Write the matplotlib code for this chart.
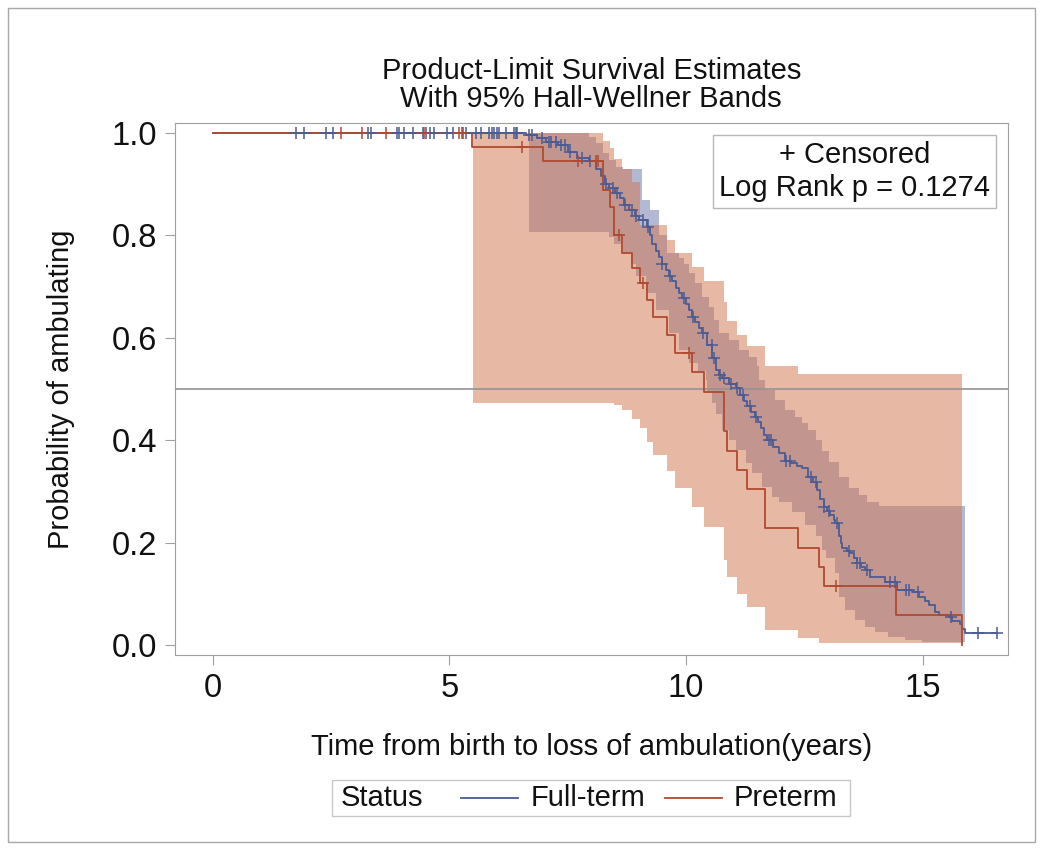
import numpy as np
import matplotlib
matplotlib.use('Agg')
import matplotlib.pyplot as plt
from matplotlib.patches import Rectangle
from matplotlib.lines import Line2D

plt.rcParams['font.family'] = ['Liberation Sans', 'DejaVu Sans']

# Kaplan-Meier estimates
ft_t = [0, 6.62, 6.85, 7.05, 7.3, 7.5, 7.7, 7.95, 8.1, 8.2, 8.3, 8.38, 8.5, 8.6, 8.7,
        8.8, 8.92, 9.01, 9.18, 9.24, 9.29, 9.36, 9.43, 9.5, 9.57, 9.64, 9.71, 9.78,
        9.85, 9.92, 10.0, 10.06, 10.13, 10.2, 10.27, 10.34, 10.45, 10.56, 10.63, 10.7,
        10.77, 10.9, 11.05, 11.15, 11.22, 11.29, 11.38, 11.47, 11.52, 11.58, 11.65,
        11.72, 11.84, 11.96, 12.1, 12.21, 12.35, 12.45, 12.59, 12.68, 12.77, 12.84,
        12.91, 12.98, 13.05, 13.12, 13.16, 13.23, 13.27, 13.3, 13.4, 13.47, 13.55,
        13.61, 13.7, 13.79, 13.9, 14.21, 14.46, 14.77, 14.92, 15.05, 15.13, 15.27,
        15.34, 15.55, 15.62, 15.79, 15.84, 15.9]
ft_s = [1.0, 0.996, 0.99, 0.983, 0.977, 0.963, 0.952, 0.945, 0.93, 0.915, 0.9, 0.892,
        0.882, 0.873, 0.86, 0.849, 0.838, 0.83, 0.817, 0.8, 0.784, 0.77, 0.758, 0.745,
        0.732, 0.72, 0.71, 0.698, 0.687, 0.678, 0.665, 0.655, 0.641, 0.63, 0.62, 0.609,
        0.585, 0.56, 0.537, 0.528, 0.521, 0.51, 0.501, 0.488, 0.477, 0.466, 0.456,
        0.446, 0.435, 0.423, 0.41, 0.4, 0.387, 0.374, 0.36, 0.355, 0.35, 0.345, 0.329,
        0.318, 0.303, 0.285, 0.27, 0.262, 0.254, 0.245, 0.238, 0.212, 0.2, 0.19, 0.184,
        0.179, 0.17, 0.16, 0.153, 0.146, 0.133, 0.124, 0.107, 0.104, 0.094, 0.086,
        0.078, 0.065, 0.059, 0.055, 0.046, 0.042, 0.032, 0.024]
ft_end = 16.57
ft_cens = [1.77, 1.93, 2.40, 2.54, 3.28, 3.35, 3.90, 3.93, 4.04, 4.23, 4.44, 4.51,
           4.60, 4.67, 4.96, 5.07, 5.28, 5.35, 5.56, 5.67, 5.84, 5.90, 5.95, 6.01,
           6.05, 6.20, 6.37, 6.41, 6.44, 6.68, 6.75, 6.95, 7.1, 7.15, 7.25, 7.35,
           7.45, 7.55, 7.8, 7.98, 8.32, 8.45, 8.55, 8.72, 8.85, 8.95, 9.1, 9.2, 9.5,
           9.66, 9.95, 10.15, 10.37, 10.55, 10.6, 10.72, 10.8, 10.95, 11.08, 11.2,
           11.35, 11.48, 11.75, 11.8, 12.12, 12.2, 12.65, 12.75, 12.92, 13.02, 13.2,
           13.45, 13.62, 13.67, 13.82, 14.32, 14.42, 14.66, 14.72, 14.9, 15.6,
           16.17, 16.57]

pre_t = [0, 5.48, 6.99, 8.25, 8.39, 8.48, 8.65, 8.85, 9.03, 9.17, 9.31, 9.59, 9.76,
         10.13, 10.39, 10.80, 10.87, 11.07, 11.29, 11.67, 12.37, 12.81, 12.91, 14.44,
         15.84]
pre_s = [1.0, 0.973, 0.945, 0.889, 0.856, 0.80, 0.766, 0.737, 0.706, 0.674, 0.641,
         0.605, 0.570, 0.533, 0.495, 0.418, 0.379, 0.342, 0.304, 0.228, 0.190, 0.153,
         0.115, 0.059, 0.0]
pre_cens = [2.70, 3.15, 3.66, 4.47, 5.21, 5.27, 6.53, 7.72, 8.10, 8.14, 8.59, 9.09,
            10.06, 13.17]

# Hall-Wellner bands
ft_hi_t = [6.69, 7.95, 8.09, 8.24, 8.38, 8.52, 8.66, 9.08, 9.25, 9.43, 9.61, 9.85,
           9.96, 10.06, 10.2, 10.34, 10.49, 10.59, 10.7, 10.91, 11.12, 11.33, 11.5,
           11.54, 11.68, 11.89, 12.1, 12.31, 12.45, 12.59, 12.74, 12.88, 13.02, 13.23,
           13.44, 13.65, 13.83, 14.07]
ft_hi = [1.0, 0.993, 0.98, 0.96, 0.947, 0.934, 0.93, 0.87, 0.85, 0.80, 0.765, 0.755,
         0.745, 0.726, 0.706, 0.68, 0.661, 0.635, 0.609, 0.596, 0.576, 0.563, 0.544,
         0.518, 0.498, 0.479, 0.459, 0.446, 0.433, 0.42, 0.40, 0.378, 0.358, 0.329,
         0.306, 0.293, 0.28, 0.271]
ft_lo_t = [6.69, 8.38, 8.48, 8.66, 8.83, 8.94, 9.15, 9.36, 9.64, 9.85, 10.06, 10.25,
           10.42, 10.45, 10.56, 10.63, 10.77, 10.91, 11.05, 11.26, 11.4, 11.61, 11.82,
           11.96, 12.24, 12.52, 12.74, 12.88, 12.95, 13.16, 13.23, 13.37, 13.58, 13.79,
           14.0, 14.28, 14.63, 14.99]
ft_lo = [0.807, 0.797, 0.784, 0.765, 0.745, 0.72, 0.687, 0.654, 0.609, 0.576, 0.551,
         0.535, 0.518, 0.492, 0.472, 0.452, 0.42, 0.40, 0.381, 0.355, 0.335, 0.309,
         0.29, 0.28, 0.26, 0.235, 0.212, 0.186, 0.17, 0.14, 0.094, 0.068, 0.049, 0.036,
         0.026, 0.016, 0.01, 0.005]
ft_band_end = 15.9

pre_hi_t = [5.49, 8.25, 8.39, 8.48, 8.65, 8.85, 9.03, 9.59, 9.76, 10.13, 10.39, 10.80,
            10.87, 11.07, 11.29, 11.67, 12.37]
pre_hi = [1.0, 0.985, 0.97, 0.95, 0.93, 0.905, 0.82, 0.791, 0.765, 0.739, 0.710, 0.670,
          0.632, 0.605, 0.583, 0.544, 0.530]
pre_lo_t = [5.49, 8.48, 8.65, 8.85, 9.03, 9.17, 9.31, 9.59, 9.76, 10.13, 10.39, 10.80,
            10.87, 11.07, 11.29, 11.67, 12.37, 12.81]
pre_lo = [0.472, 0.468, 0.459, 0.442, 0.423, 0.397, 0.371, 0.339, 0.306, 0.270, 0.231,
          0.166, 0.133, 0.100, 0.075, 0.029, 0.013, 0.004]
pre_band_end = 15.84

c_ft = '#4B5B93'
c_pre = '#B04A30'
fs = 21


def step_at(kt, kv, t):
    idx = np.searchsorted(kt, t, side='right') - 1
    return np.asarray(kv)[np.clip(idx, 0, None)]


def band(ax, hi_t, hi, lo_t, lo, end, color, z):
    t = np.union1d(hi_t, lo_t)
    t = np.append(t, end)
    ax.fill_between(t, step_at(lo_t, lo, t), step_at(hi_t, hi, t), step='post',
                    color=color, alpha=0.5, lw=0, zorder=z)


fig = plt.figure(figsize=(10.41, 8.48), dpi=100)
ax = fig.add_axes([0.168, 0.2276, 0.8, 0.6274])

band(ax, ft_hi_t, ft_hi, ft_lo_t, ft_lo, ft_band_end, '#6973A9', 1)
band(ax, pre_hi_t, pre_hi, pre_lo_t, pre_lo, pre_band_end, '#D1734B', 2)

ax.axhline(0.5, color='#939393', lw=1.2, zorder=3)

ax.step(np.append(ft_t, ft_end), np.append(ft_s, ft_s[-1]), where='post',
        color=c_ft, lw=1.3, zorder=4)
ax.step(pre_t, pre_s, where='post', color=c_pre, lw=1.3, zorder=5)
ax.plot(ft_cens, step_at(ft_t, ft_s, ft_cens), ls='none', marker='+', ms=9, mew=1.1,
        color=c_ft, zorder=6)
ax.plot(pre_cens, step_at(pre_t, pre_s, pre_cens), ls='none', marker='+', ms=9,
        mew=1.1, color=c_pre, zorder=6)

ax.set_xlim(-0.8, 16.8)
ax.set_ylim(-0.0195, 1.0195)
ax.set_xticks([0, 5, 10, 15])
ax.set_yticks([0.0, 0.2, 0.4, 0.6, 0.8, 1.0])
ax.set_yticklabels(['0.0', '0.2', '0.4', '0.6', '0.8', '1.0'])
for s in ax.spines.values():
    s.set_color('#A0A0A0')
ax.tick_params(direction='out', length=7, color='#A0A0A0', labelsize=23.5,
               labelcolor='#111111', pad=6)
ax.set_xlabel('Time from birth to loss of ambulation(years)', fontsize=fs,
              labelpad=21, color='#111111')
ax.set_ylabel('Probability of ambulating', fontsize=fs, labelpad=26,
              color='#111111')

fig.text(0.568, 0.9165, 'Product-Limit Survival Estimates', ha='center', va='center',
         fontsize=fs, color='#111111')
fig.text(0.568, 0.8835, 'With 95% Hall-Wellner Bands', ha='center', va='center',
         fontsize=fs, color='#111111')

ax.text(0.816, 0.966, '+ Censored\nLog Rank p = 0.1274', transform=ax.transAxes,
        ha='center', va='top', fontsize=fs, linespacing=1.22, color='#111111',
        bbox=dict(boxstyle='square,pad=0.22', fc='white', ec='#B8B8B8', lw=1),
        zorder=10)

# legend strip at the bottom
fig.patches.append(Rectangle((332 / 1041, 1 - 816 / 848), 518 / 1041, 36 / 848,
                             transform=fig.transFigure, fill=False, ec='#C8C8C8',
                             lw=1))
ly = 1 - 798 / 848
fig.text(341 / 1041, ly, 'Status', ha='left', va='center', fontsize=fs,
         color='#111111')
fig.lines.append(Line2D([461 / 1041, 518 / 1041], [ly, ly], transform=fig.transFigure,
                        color=c_ft, lw=1.3))
fig.text(531 / 1041, ly, 'Full-term', ha='left', va='center', fontsize=fs,
         color='#111111')
fig.lines.append(Line2D([665 / 1041, 722 / 1041], [ly, ly], transform=fig.transFigure,
                        color=c_pre, lw=1.3))
fig.text(734 / 1041, ly, 'Preterm', ha='left', va='center', fontsize=fs,
         color='#111111')

# outer frame
fig.patches.append(Rectangle((8 / 1041, 6 / 848), 1027 / 1041, 834 / 848,
                             transform=fig.transFigure, fill=False, ec='#A8A8A8',
                             lw=1))

fig.savefig('out.png', dpi=100)
